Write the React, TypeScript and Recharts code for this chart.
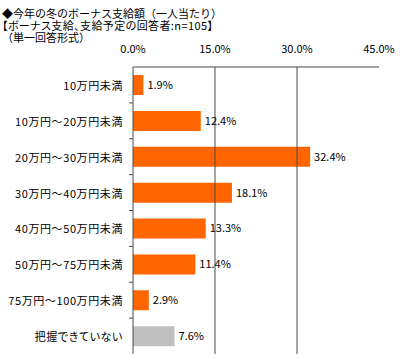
import React from "react";
import {
  BarChart,
  Bar,
  XAxis,
  YAxis,
  Cell,
  LabelList,
  ReferenceLine,
} from "recharts";

const titleLines = [
  "◆今年の冬のボーナス支給額（一人当たり）",
  "【ボーナス支給、支給予定の回答者:n=105】",
  "（単一回答形式）",
];
const titleProportional = [false, true, false];

const categories = [
  "10万円未満",
  "10万円～20万円未満",
  "20万円～30万円未満",
  "30万円～40万円未満",
  "40万円～50万円未満",
  "50万円～75万円未満",
  "75万円～100万円未満",
  "把握できていない",
];
const values = [1.9, 12.4, 32.4, 18.1, 13.3, 11.4, 2.9, 7.6];
const isUnknown = [false, false, false, false, false, false, false, true];
const xTicks = [0, 15, 30, 45];
const gridValues = [15, 30];

const ORANGE = "#FF6600";
const GRAY = "#C0C0C0";
const LINE = "#4a4a4a";
const FONT = "'Noto Sans CJK JP', 'Noto Sans', sans-serif";

const data = categories.map((c, i) => ({ name: c, value: values[i], unknown: isUnknown[i] }));

const W = 400;
const H = 359;
const margin = { top: 41, right: 21, bottom: 5, left: 0 };
const xAxisH = 26;
const plotH = H - margin.top - margin.bottom - xAxisH;
const band = plotH / categories.length;

const YTick = (props: any) => {
  const { x, y, payload, index } = props;
  const axisX = x + 10;
  return (
    <g>
      <text
        x={x}
        y={y}
        textAnchor="end"
        dominantBaseline="central"
        fontSize={11}
        fontFamily={FONT}
        fill="#000"
        style={{ fontFeatureSettings: '"palt"', letterSpacing: "0.6px" }}
      >
        {payload.value}
      </text>
      {index < categories.length - 1 && (
        <line x1={axisX - 4} x2={axisX} y1={y + band / 2} y2={y + band / 2} stroke={LINE} />
      )}
    </g>
  );
};

export default function App() {
  return (
    <div style={{ position: "absolute", left: 0, top: 0, width: W, height: H, background: "#fff" }}>
      <div
        style={{
          position: "absolute",
          left: 2,
          top: 7,
          fontFamily: FONT,
          fontSize: 11,
          lineHeight: "12px",
          color: "#000",
          whiteSpace: "nowrap",
        }}
      >
        {titleLines.map((t, i) => (
          <div
            key={i}
            style={{
              height: 12,
              fontFeatureSettings: titleProportional[i] ? '"palt"' : "normal",
              letterSpacing: titleProportional[i] ? "0.4px" : "0px",
            }}
          >
            {t}
          </div>
        ))}
      </div>
      <BarChart width={W} height={H} data={data} layout="vertical" margin={margin} barSize={20}>
        <XAxis
          xAxisId="top"
          type="number"
          orientation="top"
          domain={[0, 45]}
          ticks={xTicks}
          height={xAxisH}
          tickLine={false}
          tickSize={0}
          tickMargin={14}
          axisLine={{ stroke: LINE }}
          tick={{ fontSize: 11, fontFamily: FONT, fill: "#000" }}
          tickFormatter={(v: number) => v.toFixed(1) + "%"}
          interval={0}
        />
        <XAxis
          xAxisId="bottom"
          type="number"
          orientation="bottom"
          domain={[0, 45]}
          ticks={xTicks}
          height={0}
          tick={false}
          tickLine={false}
          axisLine={{ stroke: LINE }}
        />
        <YAxis
          type="category"
          dataKey="name"
          width={133}
          tickLine={false}
          tickSize={0}
          tickMargin={10}
          axisLine={{ stroke: LINE }}
          tick={<YTick />}
          interval={0}
        />
        {gridValues.map((g) => (
          <ReferenceLine key={g} xAxisId="top" x={g} stroke={LINE} />
        ))}
        <Bar xAxisId="top" dataKey="value" isAnimationActive={false}>
          {data.map((d, i) => (
            <Cell key={i} fill={d.unknown ? GRAY : ORANGE} />
          ))}
          <LabelList
            dataKey="value"
            position="right"
            offset={4}
            formatter={(v: number) => v.toFixed(1) + "%"}
            style={{ fontSize: 11, fontFamily: FONT, fill: "#000" }}
          />
        </Bar>
      </BarChart>
    </div>
  );
}
